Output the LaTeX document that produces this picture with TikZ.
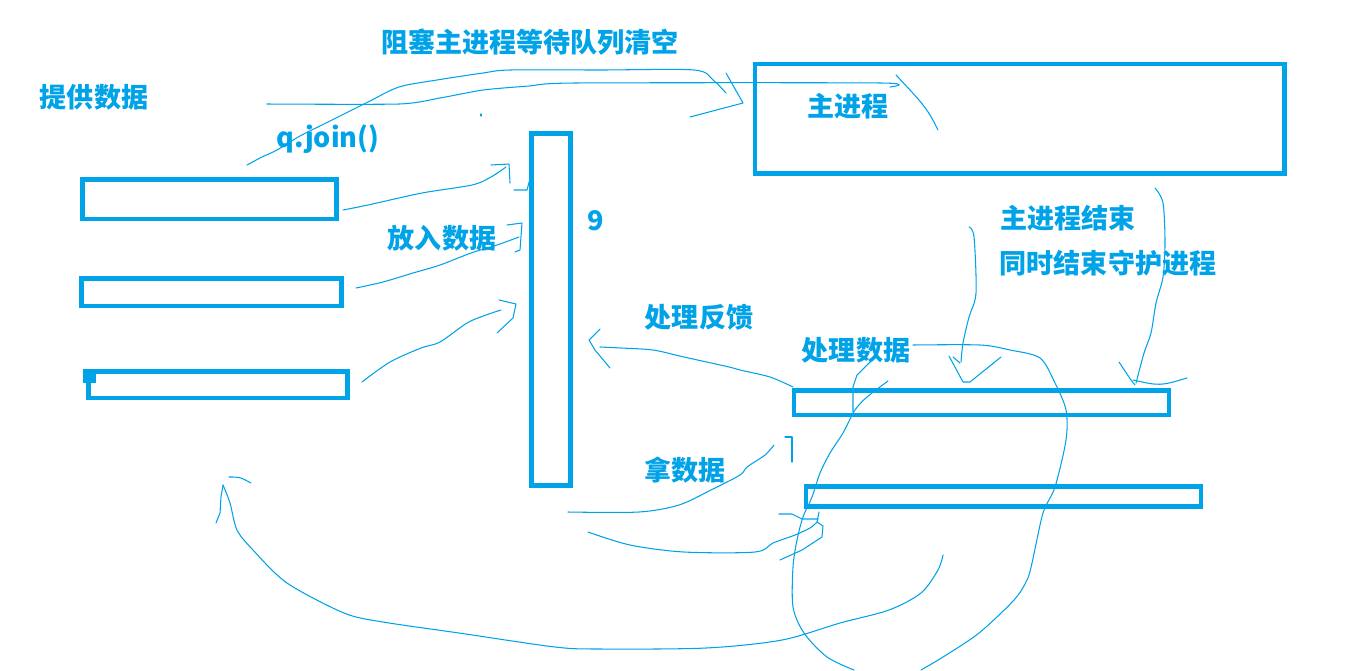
\documentclass[tikz,border=0pt]{standalone}
\usepackage{fontspec}
\newfontfamily\cjk{Noto Sans CJK SC}
\definecolor{paint}{HTML}{00A2E8}
\tikzset{
	box/.style={draw=paint, line width=0.09cm, inner sep=0pt, outer sep=0pt},
	lbl/.style={text=paint, inner sep=0pt, font=\cjk\bfseries\fontsize{15.4}{18}\selectfont},
	pen/.style={draw=paint, line width=0.6pt, line cap=round, line join=round}
}

\begin{document}
\begin{tikzpicture}[x=0.02cm, y=-0.02cm]
	\useasboundingbox (0,0) rectangle (1371,670);
	% boxes
	\node[box, minimum width=5.08cm, minimum height=0.79cm] (src1) at (209.5,199.3) {};
	\node[box, minimum width=5.21cm, minimum height=0.55cm] (src2) at (211.5,292) {};
	\node[box, minimum width=5.18cm, minimum height=0.53cm] (src3) at (218,384.5) {};
	\fill[paint] (83,369) rectangle (96,383);
	\node[box, minimum width=0.78cm, minimum height=7.05cm] (queue) at (550.8,309.5) {};
	\node[box, minimum width=10.59cm, minimum height=2.19cm] (mainproc) at (1019.9,118.7) {};
	\node[box, minimum width=7.51cm, minimum height=0.49cm] (work1) at (981.5,402.8) {};
	\node[box, minimum width=7.9cm, minimum height=0.4cm] (work2) at (1003.3,496.5) {};

	% labels
	\node[lbl] (lsupply) at (94,97) {提供数据};
	\node[lbl] (lblock) at (530,42) {阻塞主进程等待队列清空};
	\node[lbl] (ljoin) at (328,139) {q.join()};
	\node[lbl] (lmain) at (848,106) {主进程};
	\node[lbl] (lput) at (442,238) {放入数据};
	\node[lbl] (lnine) at (596,221) {9};
	\node[lbl] (lend) at (1068,218) {主进程结束};
	\node[lbl] (ldaemon) at (1108,263) {同时结束守护进程};
	\node[lbl] (lfeed) at (699,317) {处理反馈};
	\node[lbl] (ldo) at (856,350) {处理数据};
	\node[lbl] (ltake) at (685,470) {拿数据};

	% strokes
	\draw[pen] plot[smooth, tension=0.5] coordinates {(247,165) (262,157) (277,150) (300,136) (326,123) (368,102) (399,87) (437,80) (483,73) (510,70) (600,70) (694,70) (713,80) (726,93)};
	\draw[pen] (726,73) -- (743,103) -- (690,117);
	\draw[pen] plot[smooth, tension=0.4] coordinates {(267,104) (399,104) (440,98) (483,90) (529,86) (575,83) (881,83) (890,87)};
	\draw[pen] (481,114) -- (481,116);
	\draw[pen] plot[smooth] coordinates {(896,75) (919,100) (930,115) (938,130)};

	\draw[pen] plot[smooth, tension=0.5] coordinates {(343,210) (368,205) (422,193) (472,185) (491,177) (506,167)};
	\draw[pen] (491,165) -- (509,164) -- (510,183);
	\draw[pen] (514,190) -- (527,190) -- (531,175) -- (533,152);
	\draw[pen] plot[smooth, tension=0.5] coordinates {(356,288) (383,282) (413,273) (440,265) (471,253) (497,245) (519,237)};
	\draw[pen] (507,225) -- (522,223) -- (520,250) -- (515,252);
	\draw[pen] plot[smooth, tension=0.5] coordinates {(362,382) (390,362) (421,348) (440,342) (467,323) (486,315) (501,310)};
	\draw[pen] (499,300) -- (516,304) -- (513,318) -- (497,333);

	\draw[pen] plot[smooth, tension=0.5] coordinates {(223,485) (230,503) (237,530) (253,550) (287,583) (344,613) (383,622) (459,633) (555,647) (600,649) (706,648) (782,640) (840,623) (889,610) (921,593) (938,570) (943,555)};
	\draw[pen] (216,523) -- (220,513) -- (221,497) -- (223,485);
	\draw[pen] (229,477) .. controls (240,477) .. (251,483);

	\draw[pen] plot[smooth, tension=0.5] coordinates {(568,512) (639,512) (679,505) (711,490) (740,475) (747,467) (765,455) (774,445)};
	\draw[pen] (785,437) -- (792,437) -- (792,462);
	\draw[pen] plot[smooth, tension=0.5] coordinates {(588,532) (630,545) (684,552) (755,552) (773,543) (795,535) (810,528) (817,522)};
	\draw[pen] (779,514) -- (792,514) -- (802,519) -- (818,519);
	\draw[pen] (819,512) -- (817,522) -- (823,526) -- (822,537) -- (802,550) -- (780,560);

	\draw[pen] plot[smooth, tension=0.5] coordinates {(793,387) (770,377) (740,370) (729,367) (684,357) (653,350) (621,348) (600,347)};
	\draw[pen] (600,329) -- (589,340) -- (595,350) -- (610,368);

	\draw[pen] plot[smooth, tension=0.5] coordinates {(913,345) (980,345) (1010,350) (1040,358) (1055,383) (1066,410) (1066,440) (1055,487) (1043,513) (1032,563) (1027,580) (1014,600) (979,633) (943,657) (921,670)};
	\draw[pen] plot[smooth, tension=0.5] coordinates {(888,381) (867,397) (855,410) (843,433) (830,453) (820,473) (812,497) (803,517) (797,540) (793,567) (793,607) (804,633) (827,657) (854,670)};
	\draw[pen] (870,362) -- (857,375) -- (853,387) -- (853,412);

	\draw[pen] plot[smooth, tension=0.5] coordinates {(969,227) (974,237) (976,293) (969,317) (963,343) (961,362)};
	\draw[pen] (949,356) -- (963,382) -- (970,382) -- (1001,357);
	\draw[pen] (953,357) -- (960,363);
	\draw[pen] plot[smooth, tension=0.5] coordinates {(1155,188) (1163,203) (1165,243) (1163,277) (1156,303) (1151,333) (1144,353) (1136,383)};
	\draw[pen] (1119,362) -- (1131,380) -- (1135,385);
	\draw[pen] (1133,380) .. controls (1160,386) .. (1187,378);
\end{tikzpicture}
\end{document}
